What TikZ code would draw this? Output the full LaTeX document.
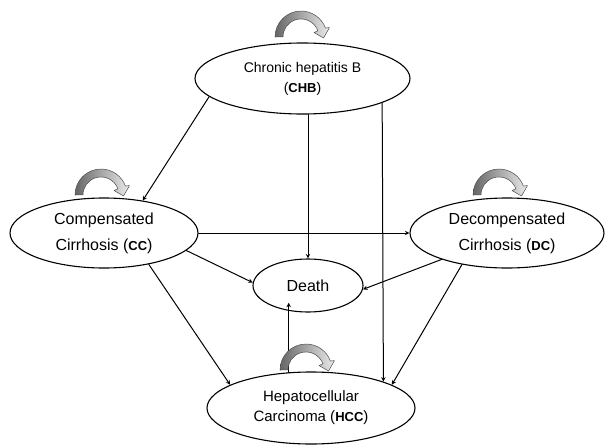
\documentclass[tikz,border=0pt]{standalone}
\usepackage{fontspec}
\setmainfont{Liberation Sans}
\usetikzlibrary{shapes.geometric}

\tikzset{
  state/.style={draw, ellipse, line width=1.1pt, inner sep=0pt, align=center},
  trans/.style={->, line width=1pt},
  loopfill/.style={left color=black!60, right color=black!8, draw=black!70, line width=0.5pt},
}
\newcommand{\abbr}[1]{{\fontsize{13}{13}\selectfont\bfseries #1}}
\newcommand{\selfloop}[2]{%
  \begin{scope}[shift={(#1,#2)}, yscale=-1]
    \path[loopfill] (-26,0) arc[start angle=180, end angle=20, x radius=26, y radius=26]
      -- (28.5,9.5) -- (22.5,-1) -- (13,4.5) -- (16.9,6.2)
      arc[start angle=20, end angle=180, x radius=18, y radius=18] -- cycle;
  \end{scope}}

\begin{document}
\begin{tikzpicture}[x=1pt, y=-1pt, >=stealth, line join=round, line cap=round]
	\useasboundingbox (0,0) rectangle (606,445);
	% states
	\node[state, minimum width=215pt, minimum height=71pt, font=\fontsize{14}{20}\selectfont] (chb) at (302.5,78.5) {Chronic hepatitis B\\(\abbr{CHB})};
	\node[state, minimum width=188pt, minimum height=70pt, font=\fontsize{16}{26}\selectfont] (cc) at (104,233) {Compensated\\Cirrhosis (\abbr{CC})};
	\node[state, minimum width=194pt, minimum height=70pt, font=\fontsize{16}{26}\selectfont] (dc) at (507,233) {Decompensated\\Cirrhosis (\abbr{DC})};
	\node[state, minimum width=110pt, minimum height=53pt, font=\fontsize{16}{20}\selectfont] (death) at (308,285.5) {Death};
	\node[state, minimum width=208pt, minimum height=72pt, font=\fontsize{15}{20}\selectfont] (hcc) at (311,408) {Hepatocellular\\Carcinoma (\abbr{HCC})};
	% transitions
	\draw[trans] (chb.191) -- (cc.40);
	\draw[trans] (death.north |- chb.south) -- (death.north);
	\draw[trans] (chb.343) -- (hcc.20);
	\draw[trans] (cc.east) -- (dc.west);
	\draw[trans] (cc.348) -- (death.177);
	\draw[trans] (dc.202) -- (death.356);
	\draw[trans] (cc.325) -- (hcc.164);
	\draw[trans] (hcc.122) -- (hcc.122 |- death.202);
	\draw[trans] (dc.215) -- (hcc.16);
	% staying in the same state
	\foreach \x/\y in {301/37, 101/195, 499/195, 306/370} \selfloop{\x}{\y};
\end{tikzpicture}
\end{document}
